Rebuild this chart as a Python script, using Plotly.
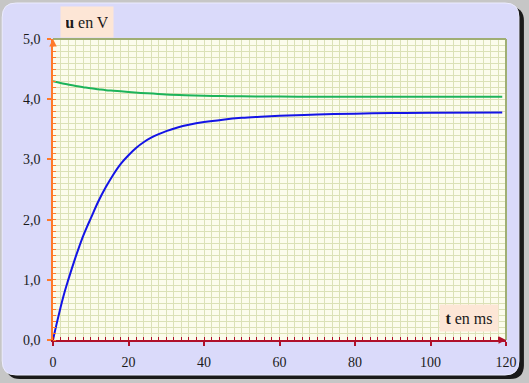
import plotly.graph_objects as go

# ---- data ----
t_green = [0, 2, 4, 6, 8, 10, 12, 14, 16, 18, 20, 25, 30, 35, 40, 45, 50, 60, 70, 80, 90, 100, 110, 119]
u_green = [4.30, 4.27, 4.245, 4.22, 4.20, 4.18, 4.165, 4.15, 4.14, 4.13, 4.12, 4.097, 4.078, 4.066,
           4.058, 4.052, 4.048, 4.043, 4.04, 4.04, 4.04, 4.04, 4.04, 4.04]

t_blue = [0, 1, 2, 3, 4, 5, 6, 7, 8, 9, 10, 12, 14, 16, 18, 20, 22, 24, 26, 28, 30, 33, 36, 40,
          45, 50, 55, 60, 70, 80, 90, 100, 119]
u_blue = [0.0, 0.28, 0.54, 0.78, 0.99, 1.19, 1.38, 1.56, 1.73, 1.88, 2.02, 2.30, 2.54, 2.75, 2.93,
          3.07, 3.19, 3.285, 3.36, 3.42, 3.47, 3.53, 3.575, 3.62, 3.66, 3.69, 3.71, 3.725, 3.745,
          3.76, 3.77, 3.775, 3.78]

x_tickvals = [0, 20, 40, 60, 80, 100, 120]
x_ticktext = ["0", "20", "40", "60", "80", "100", "120"]
y_tickvals = [0, 1, 2, 3, 4, 5]
y_ticktext = ["0,0", "1,0", "2,0", "3,0", "4,0", "5,0"]

# ---- layout geometry ----
W, H = 529, 383
ML, MR, MT, MB = 53, 21, 39, 43
PW, PH = W - ML - MR, H - MT - MB


def px(x):
    return (x - ML) / PW


def py(y):
    return (H - MB - y) / PH


def rr(x0, y0, x1, y1, r):
    def P(x, y):
        return f"{px(x):.5f},{py(y):.5f}"
    return (f"M {P(x0 + r, y0)} L {P(x1 - r, y0)} Q {P(x1, y0)} {P(x1, y0 + r)} "
            f"L {P(x1, y1 - r)} Q {P(x1, y1)} {P(x1 - r, y1)} "
            f"L {P(x0 + r, y1)} Q {P(x0, y1)} {P(x0, y1 - r)} "
            f"L {P(x0, y0 + r)} Q {P(x0, y0)} {P(x0 + r, y0)} Z")


SERIF = "'Liberation Serif', 'DejaVu Serif', serif"
ORANGE = "#ff7a2a"
DARKRED = "#b0102a"
GRID = "#dbe1b6"

fig = go.Figure()
fig.add_trace(go.Scatter(x=t_green, y=u_green, mode="lines",
                         line=dict(color="#1db35a", width=2, shape="spline"),
                         hoverinfo="skip", showlegend=False))
fig.add_trace(go.Scatter(x=t_blue, y=u_blue, mode="lines",
                         line=dict(color="#1414e6", width=2, shape="spline"),
                         hoverinfo="skip", showlegend=False))

shapes = [
    dict(type="path", xref="paper", yref="paper", layer="below",
         path=rr(6, 7, 526, 379, 14), fillcolor="#1a1a1a", line=dict(width=0)),
    dict(type="path", xref="paper", yref="paper", layer="below",
         path=rr(2, 3, 521, 375, 14), fillcolor="#dadafa",
         line=dict(color="#ececff", width=1)),
    dict(type="rect", xref="paper", yref="paper", layer="below",
         x0=0, x1=1, y0=0, y1=1, fillcolor="#fcfcec", line=dict(width=0)),
    dict(type="line", xref="paper", yref="paper", layer="above",
         x0=0, x1=1, y0=1, y1=1, line=dict(color="#9fae74", width=2)),
    dict(type="line", xref="paper", yref="paper", layer="above",
         x0=1, x1=1, y0=0, y1=1, line=dict(color="#9fae74", width=2)),
]

annotations = [
    dict(x=0, y=5, xref="x", yref="y", ax=0, ay=9,
         showarrow=True, arrowhead=2, arrowsize=1, arrowwidth=1.5, arrowcolor=ORANGE, text=""),
    dict(x=120, y=0, xref="x", yref="y", ax=-9, ay=0,
         showarrow=True, arrowhead=2, arrowsize=1, arrowwidth=1.5, arrowcolor=DARKRED, text=""),
    dict(x=px(87.5), y=py(22), xref="paper", yref="paper", showarrow=False,
         xanchor="center", yanchor="middle",
         text="<b>u</b> en V", font=dict(family=SERIF, size=16, color="#1a1a1a"),
         bgcolor="#fde6d6", width=42, height=20, borderpad=5),
    dict(x=px(471), y=py(317.5), xref="paper", yref="paper", showarrow=False,
         xanchor="center", yanchor="middle",
         text="<b>t</b> en ms", font=dict(family=SERIF, size=16, color="#1a1a1a"),
         bgcolor="#fde6d6", width=48, height=16, borderpad=5),
]

fig.update_layout(
    width=W, height=H,
    margin=dict(l=ML, r=MR, t=MT, b=MB, pad=0),
    paper_bgcolor="#c6c6c6",
    plot_bgcolor="rgba(0,0,0,0)",
    font=dict(family=SERIF),
    shapes=shapes,
    annotations=annotations,
    xaxis=dict(range=[0, 120], tickmode="array", tickvals=x_tickvals, ticktext=x_ticktext,
               showline=True, linecolor=DARKRED, linewidth=1.5, zeroline=False,
               showgrid=True, gridcolor=GRID, gridwidth=1,
               ticks="outside", ticklen=4, tickcolor=DARKRED, tickwidth=1.5,
               ticklabelstandoff=4,
               tickfont=dict(family=SERIF, size=14, color="#1a1a1a"),
               minor=dict(tickmode="linear", tick0=0, dtick=2, ticks="inside", ticklen=3,
                          tickcolor=DARKRED, tickwidth=1, showgrid=True, gridcolor=GRID,
                          gridwidth=1),
               fixedrange=True),
    yaxis=dict(range=[0, 5], tickmode="array", tickvals=y_tickvals, ticktext=y_ticktext,
               showline=True, linecolor=ORANGE, linewidth=1.5, zeroline=False,
               showgrid=True, gridcolor=GRID, gridwidth=1,
               ticks="outside", ticklen=4, tickcolor=ORANGE, tickwidth=1.5,
               ticklabelstandoff=4,
               tickfont=dict(family=SERIF, size=14, color="#1a1a1a"),
               minor=dict(tickmode="linear", tick0=0, dtick=0.1, ticks="inside", ticklen=3,
                          tickcolor=ORANGE, tickwidth=1, showgrid=True, gridcolor=GRID,
                          gridwidth=1),
               fixedrange=True),
)

fig.write_html("out.html", config={"displayModeBar": False},
               post_script="document.body.style.margin='0';document.body.style.overflow='hidden';")
